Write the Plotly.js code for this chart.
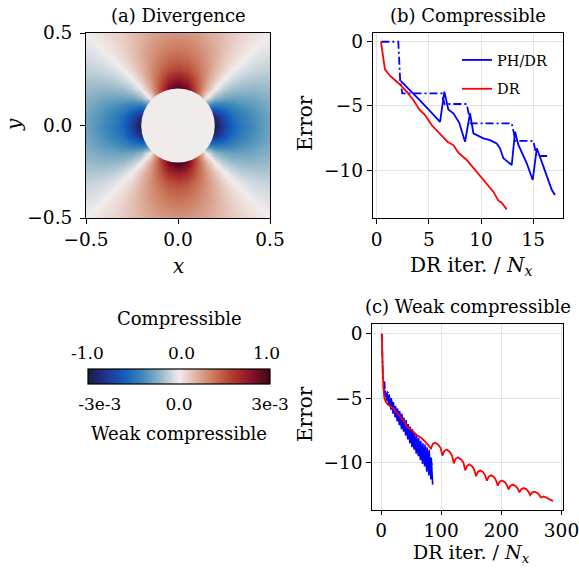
<!DOCTYPE html>
<html><head><meta charset="utf-8">
<script src="https://cdn.plot.ly/plotly-3.0.1.min.js"></script>
<style>html,body{margin:0;padding:0;background:#fff}</style>
</head><body><div id="chart" style="width:579px;height:570px"></div>
<script>
// ---------- (a) Divergence: one quadrant (x>=0, y>=0), mirrored ----------
const quadCoord = [0, 0.05, 0.1, 0.15, 0.2, 0.25, 0.3, 0.35, 0.4, 0.45, 0.5];
// rows: y index, columns: x index
const quadDiv = [
  [0.00, -1.25, -1.25, -1.25, -1.00, -0.75, -0.57, -0.47, -0.40, -0.34, -0.29],
  [1.25,  0.00, -0.75, -1.00, -0.86, -0.68, -0.53, -0.45, -0.38, -0.33, -0.28],
  [1.25,  0.75,  0.00, -0.48, -0.53, -0.49, -0.43, -0.38, -0.34, -0.30, -0.26],
  [1.25,  1.00,  0.48,  0.00, -0.21, -0.28, -0.30, -0.29, -0.28, -0.25, -0.23],
  [1.00,  0.86,  0.53,  0.21,  0.00, -0.12, -0.18, -0.20, -0.21, -0.20, -0.19],
  [0.75,  0.68,  0.49,  0.28,  0.12,  0.00, -0.07, -0.12, -0.14, -0.15, -0.15],
  [0.57,  0.53,  0.43,  0.30,  0.18,  0.07,  0.00, -0.05, -0.08, -0.10, -0.11],
  [0.47,  0.45,  0.38,  0.29,  0.20,  0.12,  0.05,  0.00, -0.04, -0.06, -0.08],
  [0.40,  0.38,  0.34,  0.28,  0.21,  0.14,  0.08,  0.04,  0.00, -0.03, -0.05],
  [0.34,  0.33,  0.30,  0.25,  0.20,  0.15,  0.10,  0.06,  0.03,  0.00, -0.02],
  [0.29,  0.28,  0.26,  0.23,  0.19,  0.15,  0.11,  0.08,  0.05,  0.02,  0.00]
];
const circleRadius = 0.2;

// ---------- (b) Compressible ----------
const bBlueX = [2.3, 3.0, 4.0, 5.0, 6.07, 6.48, 6.86, 7.34, 7.9, 8.46, 8.94, 9.26, 9.57, 10.21, 10.85, 11.49, 11.81, 12.13, 12.93, 13.25, 13.57, 14.37, 14.94, 15.33, 15.97, 16.45, 16.77, 17.08];
const bBlueY = [-3.05, -3.6, -4.45, -5.3, -6.25, -3.89, -5.27, -5.58, -6.3, -7.79, -5.58, -7.14, -7.27, -7.53, -7.66, -7.92, -8.3, -9.08, -9.6, -7.01, -8.04, -9.47, -10.77, -8.3, -9.73, -10.77, -11.55, -11.94];
const bStepX = [0.45, 2.07, 2.25, 2.45, 6.22, 6.5, 8.62, 9.0, 12.93, 13.3, 15.0, 15.3, 16.6];
const bStepY = [0, 0, -3.0, -4.02, -4.02, -4.85, -4.85, -6.36, -6.36, -7.73, -7.73, -8.9, -8.9];
const bRedX = [0.41, 0.79, 1.27, 2.17, 2.87, 3.51, 4.08, 4.63, 5.26, 6.06, 6.77, 7.34, 7.82, 8.62, 9.42, 10.21, 10.69, 11.17, 11.65, 11.97, 12.45];
const bRedY = [0, -2.15, -2.65, -3.29, -3.89, -4.54, -5.27, -5.71, -6.49, -7.14, -7.79, -8.05, -8.64, -9.21, -9.99, -10.77, -11.29, -11.68, -12.38, -12.54, -13.06];

// ---------- (c) Weak compressible ----------
const cBlueX = [4, 6.5, 7, 9.5, 10, 13, 13.5, 16.5, 17, 20, 20.5, 23.5, 24, 27, 27.5, 30.5, 31, 34, 34.5, 37.5, 38, 41, 41.5, 44.5, 45, 48, 48.5, 51.5, 52, 55, 55.5, 58.5, 59, 62, 62.5, 65.5, 66, 69, 69.5, 72.5, 73, 76, 76.5, 79.5, 80, 83, 83.5, 85.8];
const cBlueY = [-4.1, -4.9, -4.4, -5.2, -4.6, -5.6, -4.7, -5.9, -5.0, -6.2, -5.3, -6.5, -5.6, -6.8, -5.8, -7.1, -6.0, -7.4, -6.2, -7.6, -6.5, -7.9, -6.7, -8.2, -7.0, -8.5, -7.2, -8.8, -7.4, -9.0, -7.7, -9.3, -7.9, -9.5, -8.1, -9.8, -8.3, -10.1, -8.5, -10.3, -8.6, -10.7, -8.8, -11.0, -9.0, -11.3, -9.6, -11.7];
const cStepX = [1.5, 2.5, 3.0, 6.0, 6.5, 12, 12.5, 19, 19.5, 27, 27.5, 35, 35.5, 44, 44.5, 53, 53.5, 62, 62.5, 71, 71.5, 79, 79.5, 86];
const cStepY = [0, -1.5, -3.5, -3.8, -4.3, -4.6, -5.1, -5.3, -5.7, -5.9, -6.3, -6.6, -7.0, -7.3, -7.7, -8.0, -8.4, -8.6, -9.0, -9.2, -9.6, -9.8, -10.1, -10.1];
const cRedX = [1.1, 1.6, 2.2, 3.0, 3.9, 5.5, 8, 12.2, 16, 20.5, 25, 28.8, 33, 37.1, 42.6, 46, 50.9, 55, 59.2, 63, 67.6, 73, 78.6,
  83, 86, 90, 95, 99, 102, 105, 109, 114, 118, 121, 124, 128, 133, 137, 140, 143, 147, 152, 155, 158, 161, 165, 170, 173,
  176, 179, 183, 188, 191, 194, 197, 201, 206, 209, 212, 215, 219, 224, 227, 230, 233, 237, 242, 245, 248, 251, 255, 260, 263, 266, 270, 275, 280, 286];
const cRedY = [0, -1.0, -2.04, -3.2, -4.1, -5.0, -5.3, -5.53, -5.65, -5.79, -6.05, -6.3, -6.5, -6.69, -7.21, -7.3, -7.47, -7.65, -7.85, -7.95, -8.11, -8.35, -8.63,
  -8.9, -8.55, -8.45, -8.6, -8.85, -9.45, -9.1, -8.98, -9.15, -9.45, -10.05, -9.7, -9.58, -9.75, -10.0, -10.6, -10.25, -10.13, -10.3, -10.55, -11.05, -10.72, -10.6, -10.75, -10.98,
  -11.4, -11.08, -10.98, -11.12, -11.35, -11.78, -11.48, -11.38, -11.52, -11.72, -12.07, -11.8, -11.7, -11.82, -12.0, -12.3, -12.05, -11.97, -12.08, -12.25, -12.52, -12.32, -12.25, -12.35, -12.5, -12.7, -12.62, -12.7, -12.85, -12.97];

// ---------- labels ----------
const panelTitles = ['(a) Divergence', '(b) Compressible', '(c) Weak compressible'];
const legendNames = ['PH/DR', 'DR'];
const cbarTopLabels = ['-1.0', '0.0', '1.0'];
const cbarBottomLabels = ['-3e-3', '0.0', '3e-3'];
const cbarBottomVals = [-0.87, 0, 1];

// ---------- build ----------
const W = 579, H = 570;
const px = v => v / W, py = v => 1 - v / H;
const FONT = 'DejaVu Serif';

const n = quadCoord.length;
const fullCoord = [];
for (let i = -(n - 1); i <= n - 1; i++) fullCoord.push((i < 0 ? -1 : 1) * quadCoord[Math.abs(i)]);
const zFull = [];
for (let j = -(n - 1); j <= n - 1; j++) {
  const row = [];
  for (let i = -(n - 1); i <= n - 1; i++) row.push(quadDiv[Math.abs(j)][Math.abs(i)]);
  zFull.push(row);
}

const balance = [[0, 'rgb(24,28,67)'], [0.1, 'rgb(34,52,140)'], [0.2, 'rgb(18,94,190)'], [0.3, 'rgb(62,137,184)'],
  [0.4, 'rgb(150,184,200)'], [0.5, 'rgb(241,236,236)'], [0.6, 'rgb(222,175,158)'], [0.7, 'rgb(200,115,85)'],
  [0.8, 'rgb(175,55,45)'], [0.9, 'rgb(135,16,42)'], [1, 'rgb(60,9,18)']];

const BLUE = '#0000ff', RED = '#ff0000';
const dashdot = '8px,3px,2px,3px';

const traces = [
  {type: 'heatmap', x: fullCoord, y: fullCoord, z: zFull, zsmooth: 'best', colorscale: balance, zmin: -1, zmax: 1,
   xaxis: 'x', yaxis: 'y', hoverinfo: 'skip',
   colorbar: {orientation: 'h', x: px(179), xanchor: 'center', y: py(369), yanchor: 'top',
     len: 182, lenmode: 'pixels', thickness: 15, thicknessmode: 'pixels', xpad: 0, ypad: 0,
     outlinewidth: 1.2, outlinecolor: '#000', ticks: 'outside', ticklen: 5, tickcolor: 'rgba(0,0,0,0)',
     tickvals: cbarBottomVals, ticktext: cbarBottomLabels,
     tickfont: {family: FONT, size: 17, color: '#000'}}},
  {type: 'scatter', mode: 'lines', x: bBlueX, y: bBlueY, xaxis: 'x2', yaxis: 'y2', name: legendNames[0],
   legendgroup: 'g1', line: {color: BLUE, width: 1.8}},
  {type: 'scatter', mode: 'lines', x: bStepX, y: bStepY, xaxis: 'x2', yaxis: 'y2', showlegend: false,
   line: {color: BLUE, width: 1.8, dash: dashdot}},
  {type: 'scatter', mode: 'lines', x: bRedX, y: bRedY, xaxis: 'x2', yaxis: 'y2', name: legendNames[1],
   legendgroup: 'g2', line: {color: RED, width: 1.8}},
  {type: 'scatter', mode: 'lines', x: cBlueX, y: cBlueY, xaxis: 'x3', yaxis: 'y3', showlegend: false,
   line: {color: BLUE, width: 1.6}},
  {type: 'scatter', mode: 'lines', x: cStepX, y: cStepY, xaxis: 'x3', yaxis: 'y3', showlegend: false,
   line: {color: BLUE, width: 1.6, dash: dashdot}},
  {type: 'scatter', mode: 'lines', x: cRedX, y: cRedY, xaxis: 'x3', yaxis: 'y3', showlegend: false,
   line: {color: RED, width: 1.8}}
];

const tickFont = {family: FONT, size: 18.5, color: '#000'};
const baseAxis = {ticks: 'outside', ticklen: 5, tickwidth: 1, tickcolor: '#000', showline: true, mirror: true,
  linecolor: '#000', linewidth: 1, zeroline: false, tickfont: tickFont, fixedrange: true, ticklabeloverflow: 'allow'};
const gridAxis = Object.assign({}, baseAxis, {showgrid: true, gridcolor: '#e3e3e3', gridwidth: 1});

const yTopDom = [py(218), py(33)];
const layout = {
  width: W, height: H, margin: {l: 0, r: 0, t: 0, b: 0}, paper_bgcolor: '#fff', plot_bgcolor: '#fff',
  font: {family: FONT, color: '#000'},
  xaxis: Object.assign({}, baseAxis, {domain: [px(86), px(270)], range: [-0.5, 0.5], tickvals: [-0.5, 0, 0.5], tickformat: '.1f', showgrid: false, anchor: 'y'}),
  yaxis: Object.assign({}, baseAxis, {domain: yTopDom, range: [-0.5, 0.5], tickvals: [-0.5, 0, 0.5], tickformat: '.1f', showgrid: false, anchor: 'x', ticklabelstandoff: 4}),
  xaxis2: Object.assign({}, gridAxis, {domain: [px(372.7), px(563)], range: [-0.38, 17.84], tickvals: [0, 5, 10, 15], anchor: 'y2'}),
  yaxis2: Object.assign({}, gridAxis, {domain: yTopDom, range: [-13.73, 0.68], tickvals: [-10, -5, 0], anchor: 'x2'}),
  xaxis3: Object.assign({}, gridAxis, {domain: [px(372.3), px(562.7)], range: [-14.5, 302], tickvals: [0, 100, 200, 300], anchor: 'y3', ticklen: 4}),
  yaxis3: Object.assign({}, gridAxis, {domain: [py(510), py(324)], range: [-13.67, 0.75], tickvals: [-10, -5, 0], anchor: 'x3'}),
  showlegend: true,
  legend: {x: px(457), xanchor: 'left', y: py(44), yanchor: 'top', bgcolor: 'rgba(0,0,0,0)', borderwidth: 0,
    font: {family: FONT, size: 14.5, color: '#000'}, tracegroupgap: 7},
  shapes: [{type: 'circle', xref: 'x', yref: 'y', x0: -circleRadius, x1: circleRadius, y0: -circleRadius, y1: circleRadius,
    fillcolor: 'rgb(240,236,236)', line: {width: 0}, layer: 'above'}],
  annotations: []
};

function ann(text, x, y, size, extra) {
  layout.annotations.push(Object.assign({text: text, xref: 'paper', yref: 'paper', x: px(x), y: py(y),
    xanchor: 'center', yanchor: 'middle', showarrow: false, font: {family: FONT, size: size, color: '#000'}}, extra || {}));
}
ann(panelTitles[0], 178, 16, 18);
ann(panelTitles[1], 468, 16, 18);
ann(panelTitles[2], 468, 306, 18);
ann('<i>x</i>', 178, 266, 20);
ann('<i>y</i>', 14, 125, 20, {textangle: -90});
ann('Error', 305, 123, 20, {textangle: -90});
ann('Error', 305, 414, 20, {textangle: -90});
ann('DR iter. / <i>N</i><sub><i>x</i></sub>', 471, 266, 20);
ann('DR iter. / <i>N</i><sub><i>x</i></sub>', 471, 553, 19);
ann('Compressible', 179, 318, 18);
ann('Weak compressible', 179, 433, 18);
const cbarTopPx = [87.5, 181, 266];
cbarTopLabels.forEach((t, k) => ann(t, cbarTopPx[k], 353, 17));

Plotly.newPlot('chart', traces, layout, {displayModeBar: false, staticPlot: true});
</script></body></html>
